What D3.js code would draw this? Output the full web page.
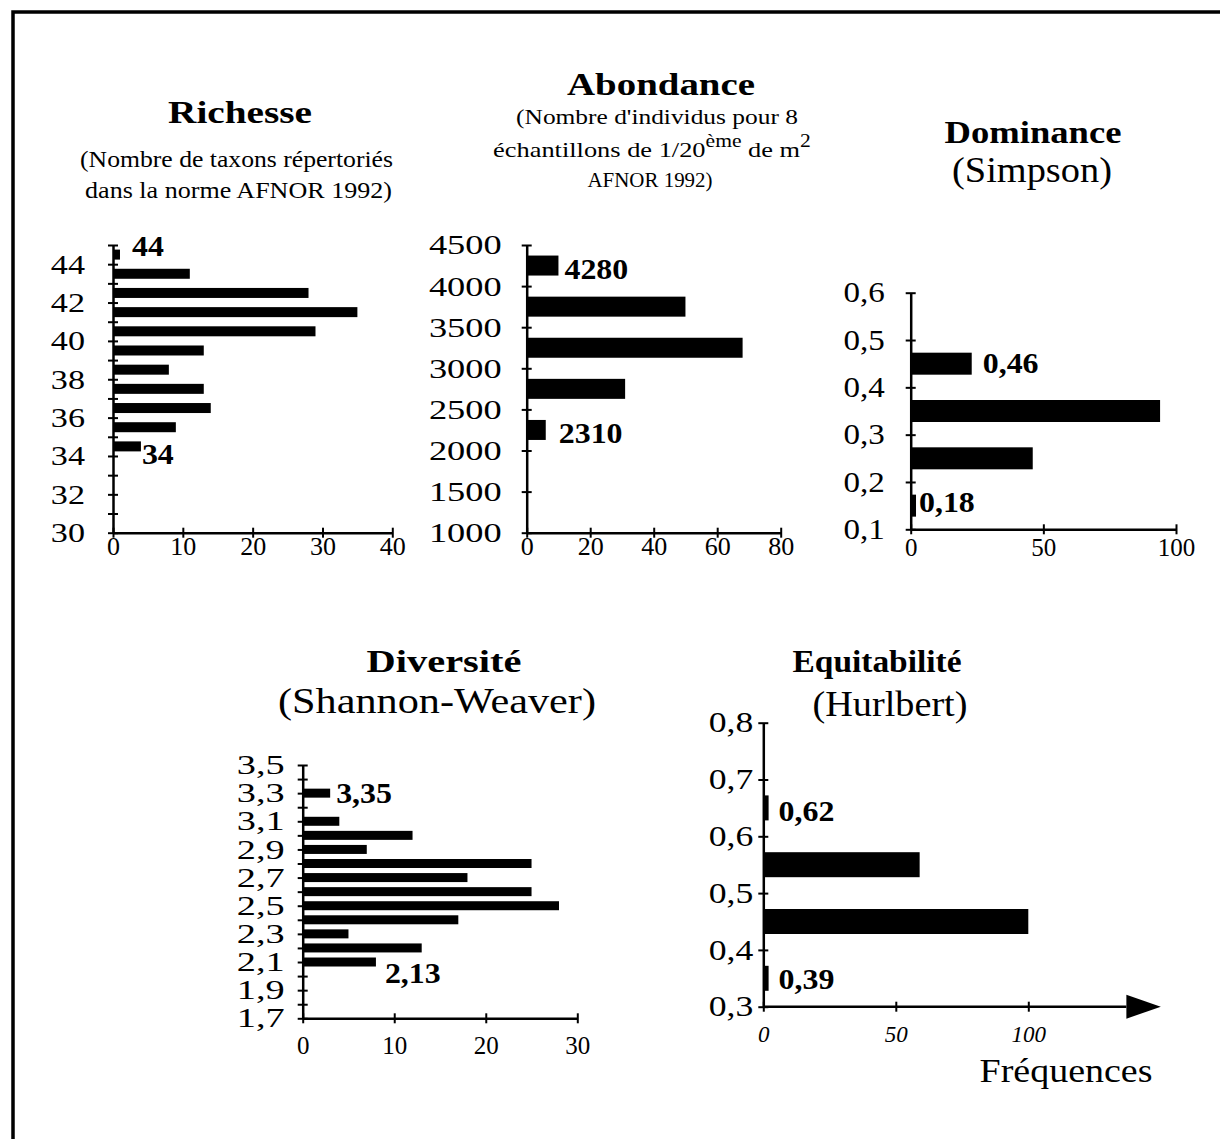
<!DOCTYPE html>
<html>
<head>
<meta charset="utf-8">
<script src="https://cdn.jsdelivr.net/npm/d3@7"></script>
<style>
  body { margin: 0; background: #fff; }
  svg text { font-family: "Times New Roman", Times, "Liberation Serif", Tinos, serif; fill: #000; }
</style>
</head>
<body>
<svg id="chart" width="1220" height="1139"></svg>
<script>
// Richesse : classes (borne basse) et frequences
const richBins = [44, 43, 42, 41, 40, 39, 38, 37, 36, 35, 34]
const richFreq = [1, 11, 28, 35, 29, 13, 8, 13, 14, 9, 4]
const richYLabels = [30, 32, 34, 36, 38, 40, 42, 44]
const richXTicks = [0, 10, 20, 30, 40]
const richExtremes = ['44', '34']

// Abondance
const abBins = [4000, 3500, 3000, 2500, 2000]
const abFreq = [10, 50, 68, 31, 6]
const abYLabels = [1000, 1500, 2000, 2500, 3000, 3500, 4000, 4500]
const abXTicks = [0, 20, 40, 60, 80]
const abExtremes = ['4280', '2310']

// Dominance (Simpson)
const domBins = [0.4, 0.3, 0.2, 0.1]
const domFreq = [23, 94, 46, 2]
const domYLabels = [0.1, 0.2, 0.3, 0.4, 0.5, 0.6]
const domXTicks = [0, 50, 100]
const domExtremes = ['0,46', '0,18']

// Diversite (Shannon-Weaver)
const divBins = [3.3, 3.2, 3.1, 3.0, 2.9, 2.8, 2.7, 2.6, 2.5, 2.4, 2.3, 2.2, 2.1]
const divFreq = [3, 0, 4, 12, 7, 25, 18, 25, 28, 17, 5, 13, 8]
const divYLabels = [1.7, 1.9, 2.1, 2.3, 2.5, 2.7, 2.9, 3.1, 3.3, 3.5]
const divXTicks = [0, 10, 20, 30]
const divExtremes = ['3,35', '2,13']

// Equitabilite (Hurlbert)
const eqBins = [0.6, 0.5, 0.4, 0.3]
const eqFreq = [2, 59, 100, 2]
const eqYLabels = [0.3, 0.4, 0.5, 0.6, 0.7, 0.8]
const eqXTicks = [0, 50, 100]
const eqExtremes = ['0,62', '0,39']

const svg = d3.select('#chart')

// cadre (gauche + haut)
svg.append('path')
  .attr('d', d3.line()([[13, 1139], [13, 12], [1220, 12]]))
  .attr('fill', 'none')
  .attr('stroke', '#000')
  .attr('stroke-width', 3.5)

function stretch (text, width) {
  let len = text.node().getComputedTextLength()
  text.attr('transform', `scale(${width / len},1)`)
}

function caption (x, y, str, size, weight, width) {
  let t = svg.append('g')
    .attr('transform', `translate(${x},${y})`)
    .append('text')
    .attr('text-anchor', 'middle')
    .style('font-size', size + 'px')
    .style('font-weight', weight)
    .text(str)
  stretch(t, width)
  return t
}

const fmt = v => String(+v.toFixed(2)).replace('.', ',')

function histogram (c) {
  let g = svg.append('g')
  let x = d3.scaleLinear().domain(c.xDomain).range(c.xRange)
  let y = d3.scaleLinear().domain(c.yDomain).range(c.yRange)

  g.selectAll('rect').data(c.bins)
    .enter()
    .append('rect')
    .attr('fill', '#000')
    .attr('x', x(0))
    .attr('y', (d) => y(d + c.shift) - c.barH / 2)
    .attr('width', (d, i) => x(c.freq[i]) - x(0))
    .attr('height', c.barH)

  // axe vertical
  let yAxis = d3.axisLeft(y)
    .tickValues(y.ticks(c.yCount))
    .tickSize(5)
    .tickSizeOuter(0)
    .tickFormat(v => c.yLabels.some(l => Math.abs(l - v) < 1e-6) ? fmt(v) : '')
  let ya = g.append('g').attr('transform', `translate(${x(0)},0)`).call(yAxis)
  ya.attr('font-family', null)
  ya.select('.domain').attr('stroke-width', 2.5)
  ya.selectAll('.tick line').attr('x1', -5).attr('x2', 5).attr('stroke-width', 2)
  ya.selectAll('.tick text')
    .style('font-size', c.yFont + 'px')
    .attr('x', -c.yGap / c.yK)
    .attr('transform', `scale(${c.yK},1)`)

  // axe horizontal
  let xAxis = d3.axisBottom(x)
    .tickValues(c.xTicks)
    .tickSize(5)
    .tickSizeOuter(0)
  let xa = g.append('g').attr('transform', `translate(0,${y(c.yDomain[0])})`).call(xAxis)
  xa.attr('font-family', null)
  xa.select('.domain').attr('stroke-width', 2.5)
  xa.selectAll('.tick line').attr('y1', -5).attr('y2', 5).attr('stroke-width', 2)
  xa.selectAll('.tick text')
    .style('font-size', c.xFont + 'px')
    .style('font-style', c.italic ? 'italic' : 'normal')
    .attr('y', c.xOff)
    .attr('dy', 0)

  if (c.arrow) {
    let y0 = y(c.yDomain[0])
    xa.select('.domain').remove()
    g.append('line')
      .attr('x1', x(0)).attr('x2', x(c.arrow[0]))
      .attr('y1', y0).attr('y2', y0)
      .attr('stroke', '#000').attr('stroke-width', 2.5)
    g.append('path')
      .attr('d', d3.line()([[x(c.arrow[0]), y0 - 12], [x(c.arrow[1]), y0], [x(c.arrow[0]), y0 + 12]]) + 'Z')
      .attr('fill', '#000')
  }

  // valeurs extremes
  let ends = [0, c.bins.length - 1]
  ends.forEach((bi, j) => {
    g.append('g')
      .attr('transform', `translate(${x(c.freq[bi]) + c.lab[j][0]},${y(c.bins[bi] + c.shift) + c.lab[j][1]})`)
      .append('text')
      .attr('dy', '0.35em')
      .attr('transform', 'scale(1.1,1)')
      .style('font-size', '29px')
      .style('font-weight', 'bold')
      .text(c.extremes[j])
  })
}

histogram({
  bins: richBins, freq: richFreq, yLabels: richYLabels, xTicks: richXTicks, extremes: richExtremes,
  xDomain: [0, 40], xRange: [113, 392.3], yDomain: [30, 45], yRange: [532.7, 245], yCount: 15,
  shift: 0.5, barH: 10, yFont: 28, yK: 1.22, yGap: 28, xFont: 26, xOff: 22,
  lab: [[12, -9], [1, 7]]
})

histogram({
  bins: abBins, freq: abFreq, yLabels: abYLabels, xTicks: abXTicks, extremes: abExtremes,
  xDomain: [0, 80], xRange: [526.7, 780.7], yDomain: [1000, 4500], yRange: [532.7, 245], yCount: 7,
  shift: 250, barH: 20, yFont: 28, yK: 1.3, yGap: 25, xFont: 26, xOff: 22,
  lab: [[6, 3], [13, 3]]
})

histogram({
  bins: domBins, freq: domFreq, yLabels: domYLabels, xTicks: domXTicks, extremes: domExtremes,
  xDomain: [0, 100], xRange: [910.7, 1176], yDomain: [0.1, 0.6], yRange: [529.3, 292.7], yCount: 5,
  shift: 0.05, barH: 22, yFont: 29, yK: 1.14, yGap: 26, xFont: 25, xOff: 27,
  lab: [[11, -1], [3, -4]]
})

histogram({
  bins: divBins, freq: divFreq, yLabels: divYLabels, xTicks: divXTicks, extremes: divExtremes,
  xDomain: [0, 30], xRange: [302.7, 577.3], yDomain: [1.7, 3.5], yRange: [1018.3, 765], yCount: 18,
  shift: 0, barH: 9, yFont: 27, yK: 1.42, yGap: 18, xFont: 25, xOff: 36,
  lab: [[6, 0], [9, 11]]
})

histogram({
  bins: eqBins, freq: eqFreq, yLabels: eqYLabels, xTicks: eqXTicks, extremes: eqExtremes,
  xDomain: [0, 150], xRange: [763.3, 1160.8], yDomain: [0.3, 0.8], yRange: [1006.7, 722.7], yCount: 5,
  shift: 0.05, barH: 25, yFont: 29, yK: 1.23, yGap: 10, xFont: 23, xOff: 35, italic: true,
  arrow: [137, 150],
  lab: [[10, 3], [10, 1]]
})

// titres
caption(240, 123, 'Richesse', 31, 'bold', 144)
caption(236.5, 167, '(Nombre de taxons répertoriés', 24, 'normal', 313)
caption(238.5, 198, 'dans la norme AFNOR 1992)', 24, 'normal', 307)

caption(661, 95, 'Abondance', 31, 'bold', 188)
caption(657, 124, "(Nombre d'individus pour 8", 22, 'normal', 282)
let sub = svg.append('g').attr('transform', 'translate(652,157)')
  .append('text')
  .attr('text-anchor', 'middle')
  .style('font-size', '22px')
sub.append('tspan').text('échantillons de 1/20')
sub.append('tspan').attr('baseline-shift', 'super').style('font-size', '18px').text('ème')
sub.append('tspan').text(' de m')
sub.append('tspan').attr('baseline-shift', 'super').style('font-size', '18px').text('2')
stretch(sub, 318)
caption(650, 187, 'AFNOR 1992)', 22, 'normal', 125)

caption(1033, 143, 'Dominance', 31, 'bold', 177)
caption(1032, 182, '(Simpson)', 35, 'normal', 160)

caption(444, 672, 'Diversité', 31, 'bold', 155)
caption(437, 713, '(Shannon-Weaver)', 35, 'normal', 318)

caption(877, 672, 'Equitabilité', 31, 'bold', 169)
caption(890, 716, '(Hurlbert)', 35, 'normal', 155)

caption(1066, 1082, 'Fréquences', 34, 'normal', 173)
</script>
</body>
</html>
